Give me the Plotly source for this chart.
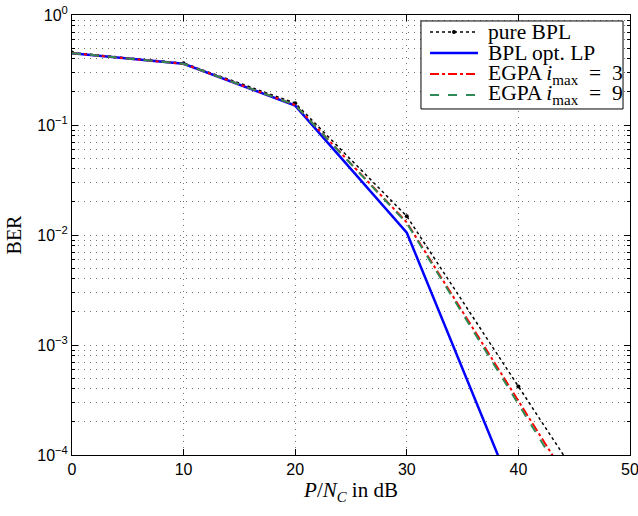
import plotly.graph_objects as go

snr_db = [0, 10, 20, 30, 40, 50]
ber_pure_bpl = [0.455, 0.365, 0.158, 0.0148, 4.2e-4, 1.2e-5]
ber_bpl_opt_lp = [0.45, 0.36, 0.15, 0.0105, 3.5e-5, 1.2e-7]
ber_egpa_3 = [0.45, 0.36, 0.152, 0.013, 3.1e-4, 7.5e-6]
ber_egpa_9 = [0.45, 0.36, 0.152, 0.0128, 2.9e-4, 6.5e-6]

x_ticks = [0, 10, 20, 30, 40, 50]
y_major = [1e-4, 1e-3, 1e-2, 1e-1, 1]
y_major_text = ["10<sup>−4</sup>", "10<sup>−3</sup>", "10<sup>−2</sup>", "10<sup>−1</sup>", "10<sup>0</sup>"]
y_minor = [m * d for d in [1e-4, 1e-3, 1e-2, 1e-1] for m in range(2, 10)]

names = ["pure BPL", "BPL opt. LP",
         "EGPA <i>i</i><sub>max</sub>\u2002=\u20023", "EGPA <i>i</i><sub>max</sub>\u2002=\u20029"]
series = [ber_pure_bpl, ber_bpl_opt_lp, ber_egpa_3, ber_egpa_9]
colors = ["black", "#0000ff", "#ff0000", "#2e8b57"]
dashes = ["dot", "solid", "dashdot", "dash"]
widths = [1.5, 2.5, 2, 2]

fig = go.Figure()
for name, ys, c, d, w in zip(names, series, colors, dashes, widths):
    is_pure = name == "pure BPL"
    fig.add_trace(go.Scatter(x=snr_db, y=ys, name=name,
                             mode="lines+markers" if is_pure else "lines",
                             line=dict(color=c, width=w, dash=d),
                             marker=dict(size=4, color=c)))

tick_font = dict(family="Liberation Sans, Arial, sans-serif", size=16, color="black")
serif = "Liberation Serif, Times New Roman, serif"
grid_col = "rgba(0,0,0,0.55)"
grid_dash = "1px,5px"

# manual legend (paper coordinates), mimicking the tight MATLAB legend box
leg_x0, leg_x1, leg_y0, leg_y1 = 0.6254, 0.9875, 0.7864, 0.9864
samp_x0, samp_x1, text_x = 0.6416, 0.7276, 0.7419
row_y = [0.9614, 0.9136, 0.8659, 0.8182]

shapes = [dict(type="rect", xref="paper", yref="paper", x0=leg_x0, x1=leg_x1, y0=leg_y0, y1=leg_y1,
               line=dict(color="black", width=1), fillcolor="white", layer="above")]
annotations = []
for name, c, d, w, yy in zip(names, colors, dashes, widths, row_y):
    shapes.append(dict(type="line", xref="paper", yref="paper", x0=samp_x0, x1=samp_x1, y0=yy, y1=yy,
                       line=dict(color=c, width=w, dash=d), layer="above"))
    annotations.append(dict(xref="paper", yref="paper", x=text_x, y=yy, text=name, showarrow=False,
                            xanchor="left", yanchor="middle",
                            font=dict(family=serif, size=21.5, color="black")))
shapes.append(dict(type="circle", xref="paper", yref="paper", xsizemode="pixel", ysizemode="pixel",
                   xanchor=(samp_x0 + samp_x1) / 2, yanchor=row_y[0], x0=-2, x1=2, y0=-2, y1=2,
                   fillcolor="black", line=dict(color="black", width=0), layer="above"))

fig.update_layout(
    width=638, height=516,
    margin=dict(l=72, r=8, t=15, b=61, autoexpand=False),
    paper_bgcolor="white", plot_bgcolor="white",
    showlegend=False,
    shapes=shapes, annotations=annotations,
    xaxis=dict(range=[0, 50], tickvals=x_ticks, ticklabeloverflow="allow", automargin=False,
               ticks="inside", ticklen=6, tickcolor="black",
               showline=True, linecolor="black", linewidth=1, mirror="ticks",
               showgrid=True, gridcolor=grid_col, griddash=grid_dash, gridwidth=1,
               zeroline=False, tickfont=tick_font,
               title=dict(text="<i>P</i>/<i>N</i><sub><i>C</i></sub> in dB",
                          font=dict(family=serif, size=21, color="black"),
                          standoff=4)),
    yaxis=dict(type="log", range=[-4, 0], ticklabeloverflow="allow", automargin=False,
               tickvals=y_major, ticktext=y_major_text,
               ticks="inside", ticklen=6, tickcolor="black",
               showline=True, linecolor="black", linewidth=1, mirror="ticks",
               showgrid=True, gridcolor=grid_col, griddash=grid_dash, gridwidth=1,
               minor=dict(tickvals=y_minor, ticks="inside", ticklen=3, tickcolor="black",
                          showgrid=True, gridcolor=grid_col, griddash=grid_dash, gridwidth=1),
               zeroline=False, tickfont=tick_font,
               title=dict(text="BER", font=dict(family=serif, size=20, color="black"),
                          standoff=10)),
)

fig.write_html("out.html", config={"displayModeBar": False},
               post_script="document.body.style.margin='0';document.body.style.overflow='hidden';")
